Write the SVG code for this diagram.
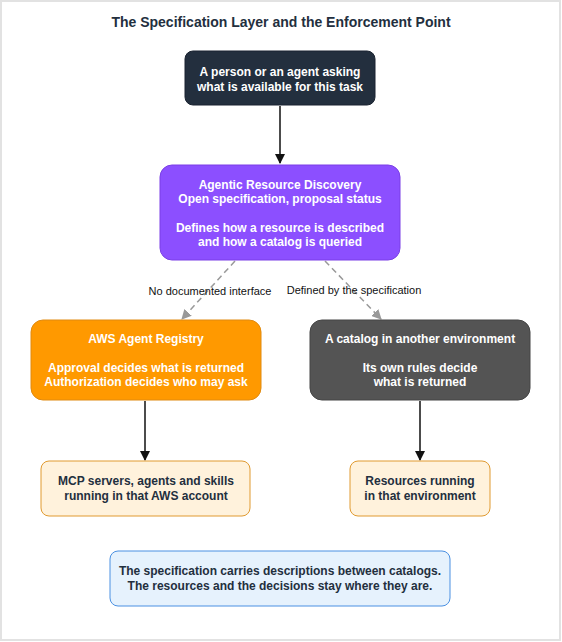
<svg xmlns="http://www.w3.org/2000/svg" width="562" height="642" viewBox="0 0 562 642">
<defs>
<style>
.t{font-family:"Liberation Sans",Arial,Helvetica,sans-serif;font-weight:bold;font-size:12px;text-anchor:middle}
.w{fill:#ffffff}
.d{fill:#232f3e}
.lbl{font-family:"Liberation Sans",Arial,Helvetica,sans-serif;font-size:11px;text-anchor:middle;fill:#111111}
.solid{stroke:#111111;stroke-width:1.5;fill:none}
.dash{stroke:#999999;stroke-width:1.5;fill:none;stroke-dasharray:6,4}
</style>
<marker id="ab" markerWidth="10" markerHeight="10" refX="9" refY="5" orient="auto" markerUnits="userSpaceOnUse">
<path d="M0,0 L10,5 L0,10 Z" fill="#111111"/>
</marker>
<marker id="ag" markerWidth="10" markerHeight="10" refX="9" refY="5" orient="auto" markerUnits="userSpaceOnUse">
<path d="M0,0 L10,5 L0,10 Z" fill="#999999"/>
</marker>
</defs>
<rect x="0" y="0" width="562" height="642" fill="#ffffff"/>
<rect x="1" y="1" width="559" height="639" fill="none" stroke="#e2e2e2" stroke-width="2"/>
<text x="281" y="27" class="t" style="font-size:14px" fill="#232f3e">The Specification Layer and the Enforcement Point</text>

<g id="connectors">
<line x1="280" y1="106" x2="280" y2="163" class="solid" marker-end="url(#ab)"/>
<line x1="235" y1="261" x2="182" y2="319" class="dash" marker-end="url(#ag)"/>
<line x1="325" y1="261" x2="381" y2="319" class="dash" marker-end="url(#ag)"/>
<line x1="145" y1="401" x2="145" y2="460" class="solid" marker-end="url(#ab)"/>
<line x1="420" y1="401" x2="420" y2="460" class="solid" marker-end="url(#ab)"/>
<text x="210" y="295" class="lbl">No documented interface</text>
<text x="354" y="294" class="lbl">Defined by the specification</text>
</g>

<g id="asker">
<rect x="185" y="51" width="190" height="54" rx="8" fill="#232f3e" stroke="#1a2330"/>
<text x="280" y="76" class="t w">A person or an agent asking</text>
<text x="280" y="91" class="t w">what is available for this task</text>
</g>

<g id="ard">
<rect x="160" y="165" width="240" height="95" rx="12" fill="#8c4fff" stroke="#7a3fe6"/>
<text x="280" y="189" class="t w">Agentic Resource Discovery</text>
<text x="280" y="203" class="t w">Open specification, proposal status</text>
<text x="280" y="232" class="t w">Defines how a resource is described</text>
<text x="280" y="246" class="t w">and how a catalog is queried</text>
</g>

<g id="registry">
<rect x="31" y="320" width="230" height="80" rx="12" fill="#ff9900" stroke="#e08a10"/>
<text x="146" y="343" class="t w">AWS Agent Registry</text>
<text x="146" y="372" class="t w">Approval decides what is returned</text>
<text x="146" y="386" class="t w">Authorization decides who may ask</text>
</g>

<g id="other">
<rect x="310" y="320" width="220" height="80" rx="12" fill="#545454" stroke="#444444"/>
<text x="420" y="343" class="t w">A catalog in another environment</text>
<text x="420" y="372" class="t w">Its own rules decide</text>
<text x="420" y="386" class="t w">what is returned</text>
</g>

<g id="aws-resources">
<rect x="41" y="461" width="209" height="55" rx="8" fill="#fff2dc" stroke="#e09a30"/>
<text x="146" y="485" class="t d">MCP servers, agents and skills</text>
<text x="146" y="500" class="t d">running in that AWS account</text>
</g>

<g id="env-resources">
<rect x="350" y="461" width="140" height="55" rx="8" fill="#fff2dc" stroke="#e09a30"/>
<text x="420" y="485" class="t d">Resources running</text>
<text x="420" y="500" class="t d">in that environment</text>
</g>

<g id="note">
<rect x="110" y="551" width="340" height="55" rx="8" fill="#e6f2fd" stroke="#4a90e2"/>
<text x="280" y="575" class="t d">The specification carries descriptions between catalogs.</text>
<text x="280" y="590" class="t d">The resources and the decisions stay where they are.</text>
</g>
</svg>
